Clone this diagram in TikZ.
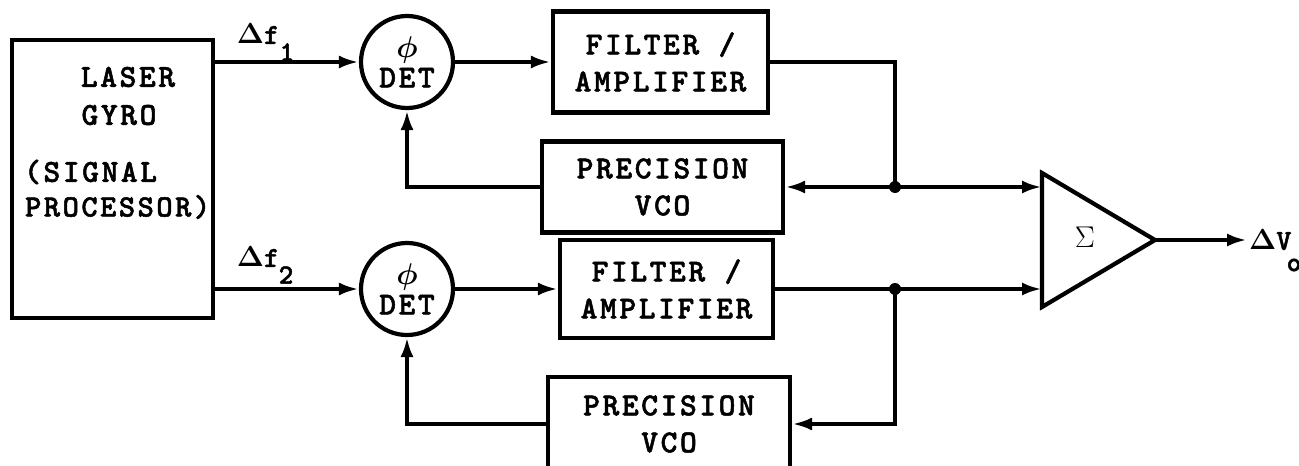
\RequirePackage{fix-cm}
\documentclass[tikz,border=0pt]{standalone}
\usepackage{fontspec}
\usepackage{amsmath}
\newfontfamily\typew{lmmonolt10-bold.otf}[LetterSpace=8,FakeBold=1.6]
\usetikzlibrary{arrows.meta}
\begin{document}
\begin{tikzpicture}[x=1pt,y=-1pt,line width=4.2pt,
  txt/.style={inner sep=0pt,font=\typew\fontsize{32}{37}\selectfont},
  box/.style={txt,draw,rectangle,align=center},
  det/.style={txt,draw,circle,minimum size=92pt,align=center},
  arr/.style={-{Latex[length=20pt,width=13pt]}},
  jdot/.style={circle,fill,inner sep=0pt,minimum size=12pt}]
\useasboundingbox (0,0) rectangle (1299,466);
\fill[white] (0,0) rectangle (1299,466);
\clip (0,0) rectangle (1299,466);

% laser gyro
\node[box,minimum width=201pt,minimum height=278pt] (gyro) at (112.5,179) {};
\node[txt] (laser) at (128,77) {LASER};
\node[txt] (gyrow) at (119,115) {GYRO};
\node[txt,anchor=west] (signal) at (22,172) {(SIGNAL};
\node[txt,anchor=west,font=\typew\fontsize{31}{37}\selectfont] (proc) at (23,207) {PROCESSOR)};

% detectors
\node[det] (det1) at (407,62) {{\rmfamily\fontsize{30}{30}\selectfont$\boldsymbol{\phi}$}\\[-7pt]DET};
\node[det] (det2) at (407,289) {{\rmfamily\fontsize{30}{30}\selectfont$\boldsymbol{\phi}$}\\[-7pt]DET};

% filters and VCOs
\node[box,minimum width=215pt,minimum height=101pt] (filt1) at (660.5,62) {FILTER /\\AMPLIFIER};
\node[box,minimum width=241pt,minimum height=91pt] (vco1) at (662.5,187) {PRECISION\\VCO};
\node[box,minimum width=213pt,minimum height=98pt] (filt2) at (666.5,289) {FILTER /\\AMPLIFIER};
\node[box,minimum width=242pt,minimum height=94pt] (vco2) at (669,424) {PRECISION\\VCO};

% input labels
\node[txt,font=\typew\fontsize{29}{30}\selectfont] (df1) at (258,34) {$\boldsymbol{\Delta}$f};
\node[txt,font=\typew\fontsize{28}{30}\selectfont] (df1s) at (287,52) {1};
\node[txt,font=\typew\fontsize{29}{30}\selectfont] (df2) at (258,257) {$\boldsymbol{\Delta}$f};
\node[txt,font=\typew\fontsize{28}{30}\selectfont] (df2s) at (286,275) {2};

% summer
\draw[line join=miter] (1042,173) -- (1155,240) -- (1042,307) -- cycle;
\coordinate (sumin1) at (1042,187);
\coordinate (sumin2) at (1042,289);
\coordinate (sumout) at (1155,240);
\node[inner sep=0pt,font=\fontsize{30}{30}\selectfont] (sigma) at (1085,237) {$\Sigma$};
\node[txt,anchor=west,font=\typew\fontsize{29}{30}\selectfont] (vo) at (1247,240) {$\boldsymbol{\Delta}$V};
\node[txt,font=\typew\fontsize{28}{30}\selectfont] (vos) at (1294,265) {o};

% junctions
\coordinate (j1) at (895,187);
\coordinate (j2) at (895,289);
\node[jdot] (j1d) at (j1) {};
\node[jdot] (j2d) at (j2) {};

% connectors
\draw[arr] (gyro.east |- det1) -- (det1.west);
\draw[arr] (gyro.east |- det2) -- (det2.west);
\draw[arr] (det1.east) -- (filt1.west);
\draw[arr] (det2.east) -- (filt2.west);
\draw (filt1.east) -| (j1);
\draw[arr] (j1) -- (vco1.east);
\draw[arr] (j1) -- (sumin1);
\draw[arr] (vco1.west) -| (det1.south);
\draw (filt2.east) -- (j2);
\draw[arr] (j2) -- (sumin2);
\draw[arr] (j2) |- (vco2.east);
\draw[arr] (vco2.west) -| (det2.south);
\draw[arr] (sumout) -- (vo.west);
\end{tikzpicture}
\end{document}
